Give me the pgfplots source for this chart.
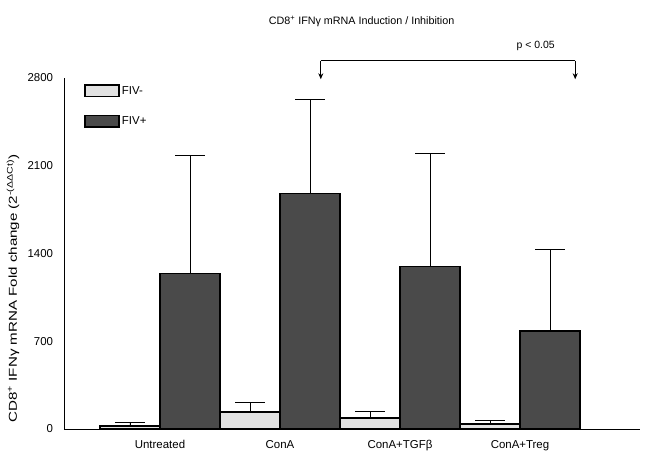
\documentclass[border=0pt]{standalone}
\usepackage{pgfplots}
\pgfplotsset{compat=1.18}
\usetikzlibrary{arrows.meta}
\usepackage{fontspec}
\setmainfont{Liberation Sans}
\definecolor{fivneg}{HTML}{E2E2E2}
\definecolor{fivpos}{HTML}{4A4A4A}
\begin{document}
\fontsize{11}{13}\selectfont
\begin{tikzpicture}
\begin{axis}[
  scale only axis,
  width=576bp, height=351bp,
  xmin=-0.8, xmax=4.0,
  ymin=0, ymax=2800,
  axis lines=left,
  axis line style={line width=0.9bp, -},
  xtick={0,1,2,3},
  xticklabels={Untreated, ConA, ConA+TGFβ, ConA+Treg},
  tick label style={font=\fontsize{11.5}{13}\selectfont},
  x tick label style={yshift=-3bp},
  major x tick style={draw=none},
  ytick={0,700,1400,2100,2800},
  major y tick style={draw=none},
  y tick label style={xshift=-5bp},
  /pgf/number format/assume math mode=true,
  /pgf/number format/1000 sep={},
  ylabel={CD8\textsuperscript{+} IFNγ mRNA Fold change (2\textsuperscript{-(ΔΔCt)})},
  ylabel style={at={(rel axis cs:0,0.40)}, yshift=51bp, anchor=center, xscale=1.32, font=\fontsize{11.5}{13}\selectfont},
  ybar, bar width=60bp,
  bar shift auto=false,
  clip=false,
  legend style={draw=none, fill=none, at={(rel axis cs:0.03,0.988)}, anchor=north west,
    row sep=17bp, font=\fontsize{11.5}{13}\selectfont},
  legend cell align=left,
  legend image code/.code={\draw[#1, line width=1.5bp] (0bp,-5.5bp) rectangle (34bp,6bp);},
  every axis plot/.append style={line width=1.5bp},
]
\addplot+[bar shift=-30bp, fill=fivneg, draw=black,
  error bars/.cd, y dir=plus, y explicit,
  error bar style={line width=0.8bp, black},
  error mark options={rotate=90, mark size=15bp, line width=0.8bp, black}]
  coordinates {(0,24) +- (0,31) (1,134) +- (0,79) (2,87) +- (0,55) (3,40) +- (0,31)};
\addplot+[bar shift=30bp, fill=fivpos, draw=black,
  error bars/.cd, y dir=plus, y explicit,
  error bar style={line width=0.8bp, black},
  error mark options={rotate=90, mark size=15bp, line width=0.8bp, black}]
  coordinates {(0,1240) +- (0,940) (1,1880) +- (0,750) (2,1295) +- (0,901) (3,782) +- (0,648)};
\legend{FIV-, FIV+}
\coordinate (O) at (rel axis cs:0,0);
\draw[line width=0.8bp, -{Stealth[length=6bp,width=5bp]}] (axis cs:1.34,2938) -- (axis cs:1.34,2790);
\draw[line width=0.8bp] (axis cs:1.34,2938) -- (axis cs:3.46,2938);
\draw[line width=0.8bp, -{Stealth[length=6bp,width=5bp]}] (axis cs:3.46,2938) -- (axis cs:3.46,2790);
\node[font=\fontsize{10.5}{12}\selectfont] at (axis cs:3.13,3057) {p < 0.05};
\node[font=\fontsize{10.8}{12}\selectfont] at (axis cs:1.68,3250) {CD8\textsuperscript{+} IFNγ mRNA Induction / Inhibition};
\end{axis}
\path (O) ++(-64bp,-22bp) rectangle ++(646bp,451bp);
\end{tikzpicture}
\end{document}
